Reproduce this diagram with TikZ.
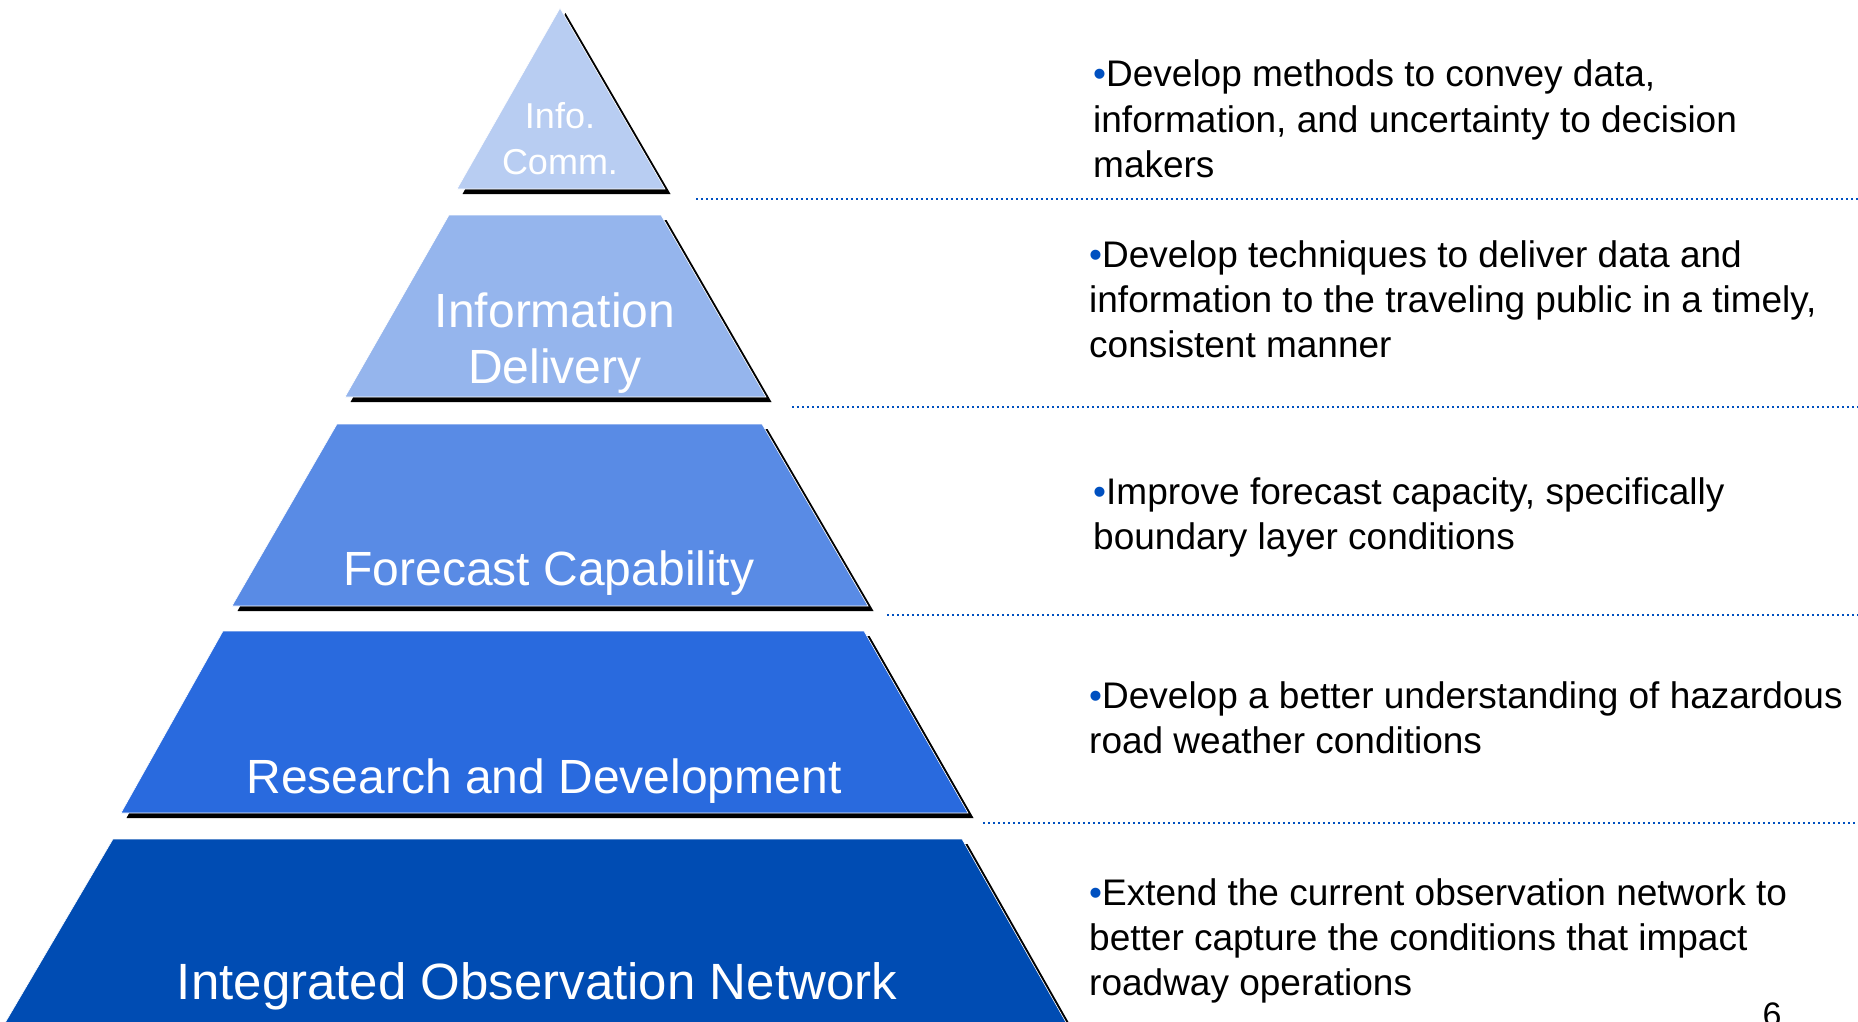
\documentclass[tikz,border=0pt]{standalone}
\usepackage{fontspec}
\setmainfont{Liberation Sans}
\definecolor{tierA}{HTML}{B8CDF2}
\definecolor{tierB}{HTML}{95B5ED}
\definecolor{tierC}{HTML}{598BE5}
\definecolor{tierD}{HTML}{296ADE}
\definecolor{tierE}{HTML}{004CB3}
\definecolor{dotblue}{HTML}{0050C0}
\newcommand\blueitem{{\color{dotblue}\textbullet}}
\begin{document}
\begin{tikzpicture}[x=1pt,y=-1pt,
    dropshade/.style={fill=black,shift={(5.5,5)}},
    tier/.style={draw=white,line width=0.6pt},
    tierlabel/.style={text=white,inner sep=0pt,align=center,anchor=base,
        font=\fontsize{48}{56}\selectfont},
    notetext/.style={inner sep=0pt,align=left,anchor=base west,
        font=\fontsize{37}{45}\selectfont},
    sepline/.style={dotblue,line width=2pt,dash pattern=on 2pt off 3pt}]
    \useasboundingbox (0,0) rectangle (1858,1022);
    \begin{scope}
        \clip (0,0) rectangle (1858,1022);
        % pyramid tiers: top y / bottom y / top left, top right, bottom right, bottom left
        \foreach \yt/\yb/\xa/\xb/\xc/\xd/\col in {
            8/189/560/560/665/457/tierA,
            215/397/449/661/766/345/tierB,
            424/606/337/762/868/232/tierC,
            631/813/223/864/968/121/tierD,
            839/1040/113/962/1076/-5/tierE}{
            \fill[dropshade] (\xa,\yt) -- (\xb,\yt) -- (\xc,\yb) -- (\xd,\yb) -- cycle;
            \filldraw[tier,fill=\col] (\xa,\yt) -- (\xb,\yt) -- (\xc,\yb) -- (\xd,\yb) -- cycle;
        }
    \end{scope}
    % dotted rules between the notes
    \draw[sepline] (696,199) -- (1858,199);
    \draw[sepline] (792,407) -- (1858,407);
    \draw[sepline] (887,615) -- (1858,615);
    \draw[sepline] (983,823) -- (1858,823);
    % tier names (base = last line)
    \node[tierlabel,font=\fontsize{36}{47}\selectfont] (infocomm) at (560,175) {Info.\\Comm.};
    \node[tierlabel] (delivery) at (555,383) {Information\\Delivery};
    \node[tierlabel] (forecast) at (549,585) {Forecast Capability};
    \node[tierlabel] (research) at (544,793) {Research and Development};
    \node[tierlabel,font=\fontsize{51}{58}\selectfont] (network) at (537,999) {Integrated Observation Network};
    % notes on the right
    \node[notetext] (noteA) at (1093,177) {\blueitem Develop methods to convey data,\\information, and uncertainty to decision\\makers};
    \node[notetext] (noteB) at (1089,357) {\blueitem Develop techniques to deliver data and\\information to the traveling public in a timely,\\consistent manner};
    \node[notetext] (noteC) at (1093,549) {\blueitem Improve forecast capacity, specifically\\boundary layer conditions};
    \node[notetext] (noteD) at (1089,753) {\blueitem Develop a better understanding of hazardous\\road weather conditions};
    \node[notetext] (noteE) at (1089,995) {\blueitem Extend the current observation network to\\better capture the conditions that impact\\roadway operations};
    \node[inner sep=0pt,anchor=base,font=\fontsize{34}{40}\selectfont] (pagenum) at (1772,1026) {6};
\end{tikzpicture}
\end{document}
